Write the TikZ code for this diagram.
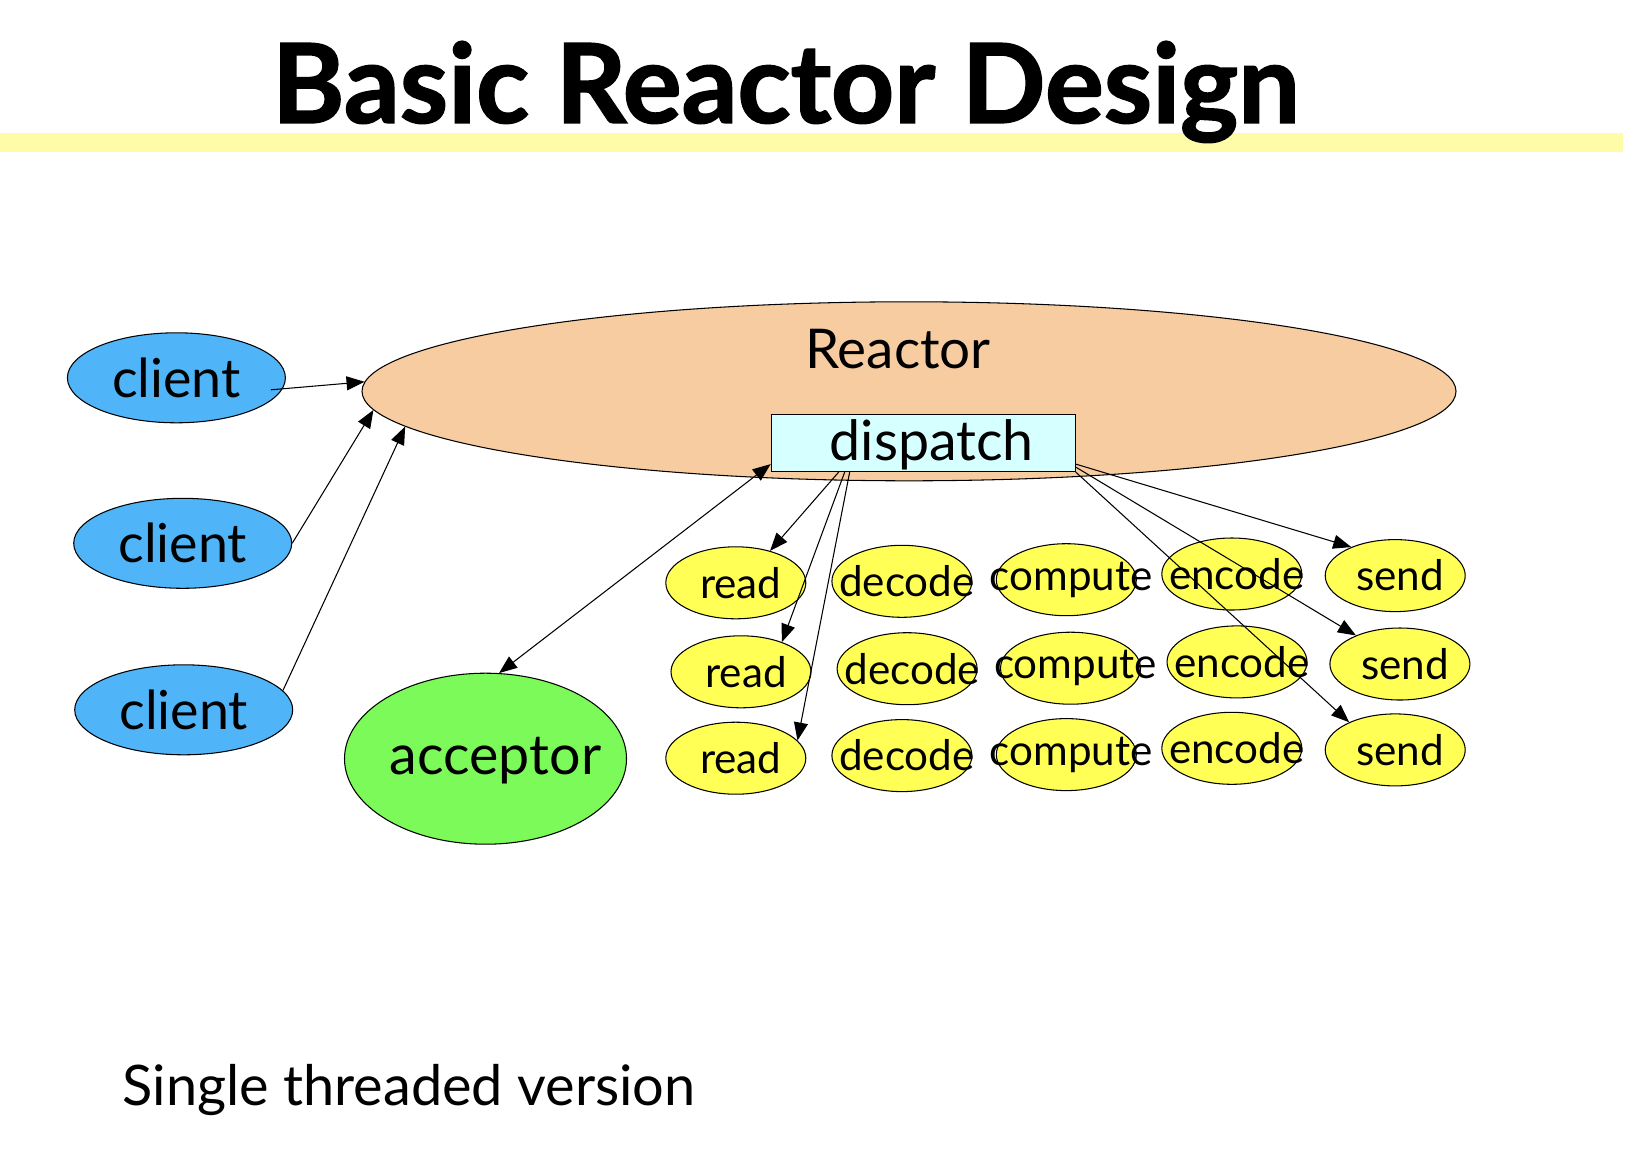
\documentclass[tikz,border=0pt]{standalone}
\usepackage{fontspec}
\setmainfont{Lato}
\newfontfamily\titlefont[FakeBold=1.5]{Lato Bold}
\usepackage{xcolor}
\usepackage{tikz}
\usetikzlibrary{positioning,shapes.geometric,arrows.meta,calc}

\definecolor{clientblue}{RGB}{79,180,248}
\definecolor{reactorpeach}{RGB}{246,204,160}
\definecolor{dispatchcyan}{RGB}{214,255,255}
\definecolor{acceptorgreen}{RGB}{124,250,90}
\definecolor{jobyellow}{RGB}{255,255,85}
\definecolor{titlebar}{RGB}{255,252,168}

\begin{document}
\begin{tikzpicture}[
    line width=0.3pt,
    arr/.style={-{Triangle[length=1.8mm,width=1.4mm]}},
    dblarr/.style={{Triangle[length=1.8mm,width=1.4mm]}-{Triangle[length=1.8mm,width=1.4mm]}},
    client/.style={
        ellipse,
        draw=black,
        fill=clientblue,
        minimum width=2.18cm,
        minimum height=0.90cm,
        inner sep=0pt,
        font=\fontsize{15.3}{18}\selectfont
    },
    job/.style={
        ellipse,
        draw=black,
        fill=jobyellow,
        minimum width=1.40cm,
        minimum height=0.72cm,
        inner sep=0pt
    },
    jobname/.style={
        inner sep=0pt,
        xshift=0.05cm,
        font=\fontsize{12}{14}\selectfont
    },
    bigname/.style={
        inner sep=0pt,
        font=\fontsize{15.8}{18}\selectfont
    }
]

\useasboundingbox (0,0) rectangle (16.32,-11.52);

\fill[titlebar] (0,-1.33) rectangle (16.23,-1.52);
\node[anchor=base, inner sep=0pt, font=\fontsize{31.3}{36}\titlefont]
    (title) at (7.86,-1.228) {Basic Reactor Design};

\node[ellipse, draw=black, fill=reactorpeach,
      minimum width=10.94cm, minimum height=1.79cm, inner sep=0pt]
    (reactor) at (9.09,-3.913) {};
\node[inner sep=0pt, font=\fontsize{15.6}{18}\selectfont]
    (reactorname) at (8.98,-3.49) {Reactor};

\node[draw=black, fill=dispatchcyan,
      minimum width=3.04cm, minimum height=0.573cm, inner sep=0pt,
      label={[bigname, xshift=0.085cm, yshift=-0.02cm]center:dispatch}]
    (dispatch) at (9.232,-4.429) {};

\node[client] (client1) at (1.764,-3.778) {client};
\node[client] (client2) at (1.827,-5.433) {client};
\node[client] (client3) at (1.837,-7.098) {client};

\node[ellipse, draw=black, fill=acceptorgreen,
      minimum width=2.82cm, minimum height=1.71cm, inner sep=0pt,
      label={[bigname, xshift=0.1cm, yshift=-0.02cm]center:acceptor}]
    (acceptor) at (4.855,-7.587) {};

\node[job, label={[jobname]center:read}]    (read1)    at (7.358,-5.828) {};
\node[job, label={[jobname]center:decode}]  (decode1)  at (9.019,-5.813) {};
\node[job, label={[jobname]center:compute}] (compute1) at (10.663,-5.797) {};
\node[job, label={[jobname]center:encode}]  (encode1)  at (12.318,-5.740) {};
\node[job, label={[jobname]center:send}]    (send1)    at (13.952,-5.756) {};

\node[job, label={[jobname]center:read}]    (read2)    at (7.410,-6.718) {};
\node[job, label={[jobname]center:decode}]  (decode2)  at (9.071,-6.687) {};
\node[job, label={[jobname]center:compute}] (compute2) at (10.705,-6.682) {};
\node[job, label={[jobname]center:encode}]  (encode2)  at (12.370,-6.619) {};
\node[job, label={[jobname]center:send}]    (send2)    at (13.999,-6.640) {};

\node[job, label={[jobname]center:read}]    (read3)    at (7.358,-7.582) {};
\node[job, label={[jobname]center:decode}]  (decode3)  at (9.019,-7.556) {};
\node[job, label={[jobname]center:compute}] (compute3) at (10.663,-7.546) {};
\node[job, label={[jobname]center:encode}]  (encode3)  at (12.318,-7.483) {};
\node[job, label={[jobname]center:send}]    (send3)    at (13.952,-7.499) {};

\draw[arr] ([xshift=-0.15cm,yshift=-0.12cm]client1.east) -- (reactor.179);
\draw[arr] (client2.east) -- (reactor.182.5);
\draw[arr] (client3.11) -- (reactor.184.3);

\draw[dblarr] (acceptor.81) -- ([yshift=0.08cm]dispatch.south west);

\draw[arr] ([xshift=0.68cm]dispatch.south west) -- (read1.43);
\draw[arr] ([xshift=0.74cm]dispatch.south west) -- (read2.36);
\draw[arr] ([xshift=0.79cm]dispatch.south west) -- (read3.16);

\draw[arr] ([yshift=0.08cm]dispatch.south east) -- (send1.147);
\draw[arr] ([yshift=0.05cm]dispatch.south east) -- (send2.147);
\draw[arr] (dispatch.south east) -- (send3.149);

\node[anchor=base west, inner sep=0pt, font=\fontsize{15.9}{19}\selectfont]
    (caption) at (1.22,-11.05) {Single threaded version};

\end{tikzpicture}
\end{document}
